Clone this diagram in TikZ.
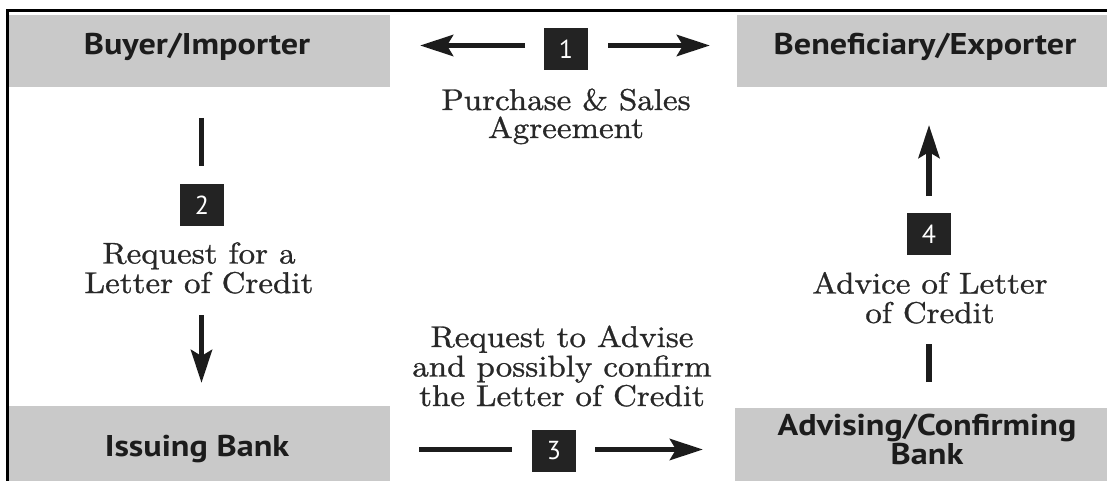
\documentclass[tikz,border=0pt]{standalone}
\usepackage{fontspec}
\newfontfamily\partyfont{PT Sans}[FakeStretch=1.14]
\newfontfamily\badgefont{PT Sans}
\newfontfamily\stepfont{lmroman10-regular.otf}[FakeStretch=1.1,FakeBold=1]
\usetikzlibrary{arrows.meta}
\definecolor{boxgray}{RGB}{201,201,201}
\definecolor{badgecol}{RGB}{35,35,35}
\definecolor{inkcol}{RGB}{28,28,28}
\definecolor{serifcol}{RGB}{40,40,40}
\tikzset{
  partytext/.style={anchor=base, inner sep=0pt, text=inkcol, align=center,
    font=\partyfont\bfseries\fontsize{30}{27}\selectfont},
  steptext/.style={anchor=base, inner sep=0pt, text=serifcol, align=center,
    font=\stepfont\fontsize{30}{29.5}\selectfont},
  badge/.style={fill=badgecol, minimum width=44pt, minimum height=42pt,
    inner sep=0pt, text=white, font=\badgefont\fontsize{26}{26}\selectfont},
  flow/.style={draw=inkcol, line width=5.5pt},
  flowarrow/.style={flow, -{Stealth[length=33pt,width=21pt,inset=6pt]}},
  frame/.style={draw=black, line width=3pt}
}
\begin{document}
\begin{tikzpicture}[x=1pt,y=-1pt]
\useasboundingbox (0,0) rectangle (1107,481);
% frame
\draw[frame] (7,481) -- (7,11) -- (1107,11);
% party boxes
\fill[boxgray] (8.5,15) rectangle (390,87);
\fill[boxgray] (737,15) rectangle (1107,87);
\fill[boxgray] (8.5,406) rectangle (390,481);
\fill[boxgray] (735,408) rectangle (1107,481);
\node[partytext] (buyer) at (197,55) {Buyer/Importer};
\node[partytext] (benef) at (925,55) {Beneficiary/Exporter};
\node[partytext] (issuing) at (197,456) {Issuing Bank};
\node[partytext] (advising) at (927,464) {Advising/Confirming\\Bank};
% badges
\node[badge] (b1) at (566,49) {1};
\node[badge] (b2) at (202,205) {2};
\node[badge] (b3) at (554,451) {3};
\node[badge] (b4) at (929,234) {4};
% step texts (base anchor = baseline of the last line)
\node[steptext, font=\stepfont\fontsize{30}{28}\selectfont] (t1) at (566,138) {Purchase \& Sales\\Agreement};
\node[steptext] (t2) at (199,293) {Request for a\\Letter of Credit};
\node[steptext] (t3) at (562,406) {Request to Advise\\and possibly confirm\\the Letter of Credit};
\node[steptext] (t4) at (930,323) {Advice of Letter\\of Credit};
% connector end points
\coordinate (a1ls) at (525,45.5); \coordinate (a1le) at (420,45.5);
\coordinate (a1rs) at (608,45.5); \coordinate (a1re) at (710,45.5);
\coordinate (a2ts) at (201.5,118); \coordinate (a2te) at (201.5,166);
\coordinate (a2bs) at (201.5,315); \coordinate (a2be) at (201.5,383);
\coordinate (a3ls) at (419,449.5); \coordinate (a3le) at (512,449.5);
\coordinate (a3rs) at (595,449.5); \coordinate (a3re) at (703,449.5);
\coordinate (a4ts) at (929,196); \coordinate (a4te) at (929,125);
\coordinate (a4bs) at (929,382); \coordinate (a4be) at (929,344);
% connectors
\draw[flowarrow] (a1ls) -- (a1le);
\draw[flowarrow] (a1rs) -- (a1re);
\draw[flow] (a2ts) -- (a2te);
\draw[flowarrow] (a2bs) -- (a2be);
\draw[flow] (a3ls) -- (a3le);
\draw[flowarrow] (a3rs) -- (a3re);
\draw[flowarrow] (a4ts) -- (a4te);
\draw[flow] (a4bs) -- (a4be);
\end{tikzpicture}
\end{document}
